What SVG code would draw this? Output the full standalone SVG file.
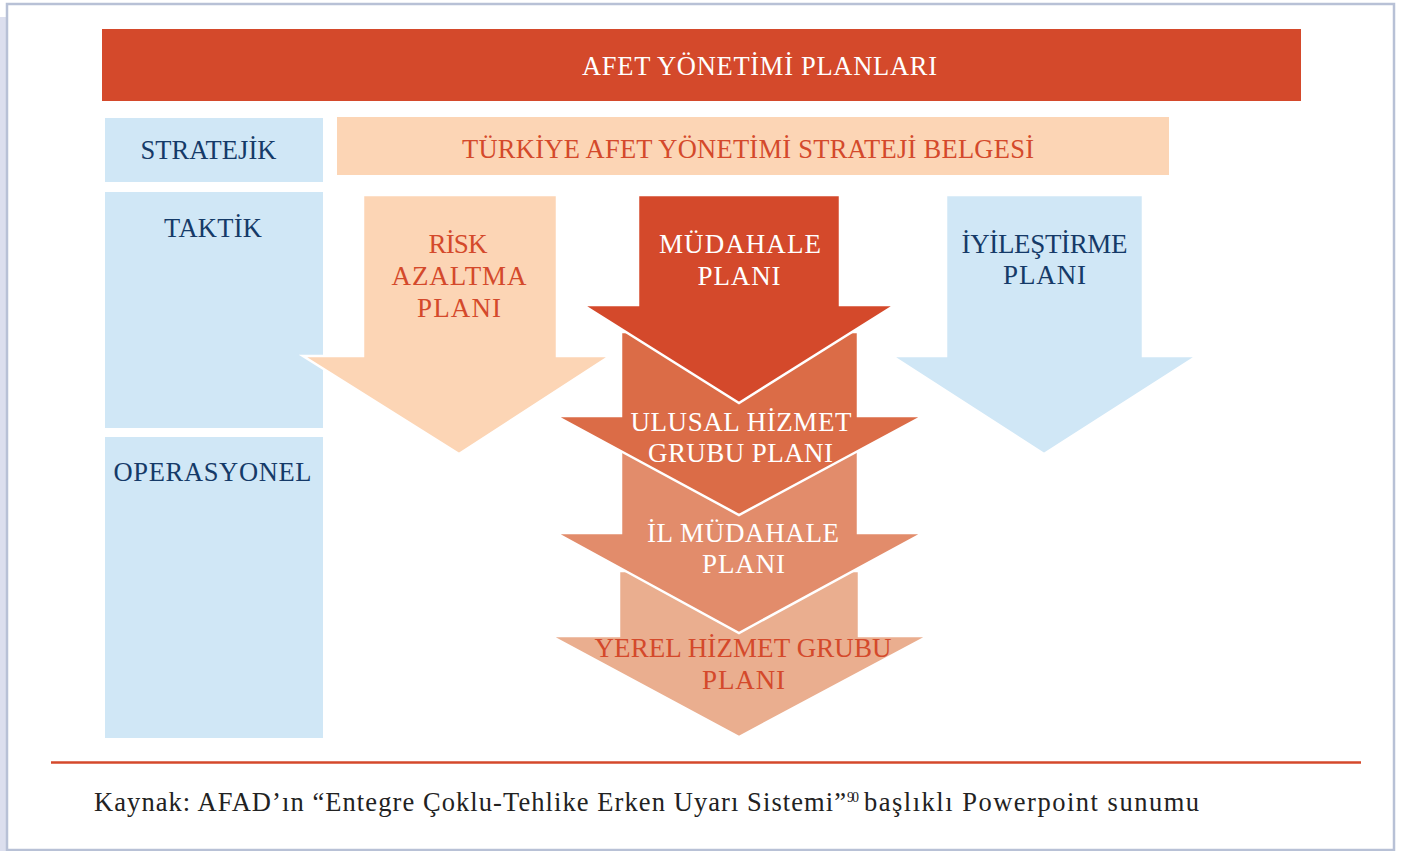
<svg xmlns="http://www.w3.org/2000/svg" width="1410" height="851" viewBox="0 0 1410 851">
<style>
.t{font-family:"Liberation Serif","Times New Roman",serif;font-size:27px;text-anchor:middle}
.h{font-size:26.5px}
.w{fill:#ffffff}
.n{fill:#153a68}
.r{fill:#d4492b}
.cap{font-family:"Liberation Serif","Times New Roman",serif;font-size:26.5px;fill:#222222}
.sup{font-family:"Liberation Serif","Times New Roman",serif;font-size:14px;fill:#222222}
.arr{stroke:#ffffff;stroke-width:2.5;stroke-linejoin:miter}
.lvl{fill:#d0e7f6}
</style>
<rect x="0" y="0" width="1410" height="851" fill="#ffffff"/>
<rect x="0" y="17" width="6" height="834" fill="#dcdfee"/>
<rect x="7" y="4" width="1387" height="846" fill="none" stroke="#b8c1d6" stroke-width="2.5"/>

<g id="header">
<rect x="102" y="29" width="1199" height="72" fill="#d4492b"/>
<text class="t h w" x="759.5" y="75" textLength="355">AFET YÖNETİMİ PLANLARI</text>
</g>

<g id="strateji-belgesi">
<rect x="337" y="117" width="832" height="58" fill="#fcd5b5"/>
<text class="t h r" x="748" y="158" textLength="572">TÜRKİYE AFET YÖNETİMİ STRATEJİ BELGESİ</text>
</g>

<g id="stratejik">
<rect class="lvl" x="105" y="118" width="218" height="64"/>
<text class="t h n" x="208.5" y="159" textLength="136">STRATEJİK</text>
</g>
<g id="taktik">
<rect class="lvl" x="105" y="192" width="218" height="236"/>
<text class="t h n" x="213" y="237" textLength="98">TAKTİK</text>
</g>
<g id="operasyonel">
<rect class="lvl" x="105" y="437" width="218" height="301"/>
<text class="t h n" x="212.5" y="481" textLength="198">OPERASYONEL</text>
</g>

<g id="risk-azaltma">
<polygon class="arr" points="363,195 557,195 557,356 610,356 459,454 303,356 363,356" fill="#fcd5b5"/>
<text class="t r" x="458" y="253" textLength="59">RİSK</text>
<text class="t r" x="459" y="285" textLength="135">AZALTMA</text>
<text class="t r" x="459" y="317" textLength="84">PLANI</text>
</g>

<g id="iyilestirme">
<polygon class="arr" points="946,195 1143,195 1143,356 1197,356 1044,454 892,356 946,356" fill="#d0e7f6"/>
<text class="t n" x="1044.5" y="253" textLength="166">İYİLEŞTİRME</text>
<text class="t n" x="1044.5" y="284" textLength="83">PLANI</text>
</g>

<g id="yerel">
<polygon class="arr" points="619,571 859,571 859,636 928,636 739,737 551,636 619,636" fill="#eaae8f"/>
</g>

<g id="il">
<polygon class="arr" points="621,450 858,450 858,533 923,533 739,633 556,533 621,533" fill="#e28c6b"/>
<text class="t w" x="743" y="542" textLength="192">İL MÜDAHALE</text>
<text class="t w" x="743.5" y="573" textLength="83">PLANI</text>
</g>

<g id="ulusal">
<polygon class="arr" points="621,332 858,332 858,416 923,416 739,515 556,416 621,416" fill="#db6c47"/>
<text class="t w" x="741" y="431" textLength="221">ULUSAL HİZMET</text>
<text class="t w" x="740.5" y="462" textLength="185">GRUBU PLANI</text>
</g>

<g id="mudahale">
<polygon class="arr" points="638,195 840,195 840,305 895,305 739,403 583,305 638,305" fill="#d4492b"/>
<text class="t w" x="740" y="253" textLength="162">MÜDAHALE</text>
<text class="t w" x="739" y="285" textLength="83">PLANI</text>
</g>

<g id="yerel-label">
<text class="t r" x="743" y="657" textLength="297">YEREL HİZMET GRUBU</text>
<text class="t r" x="743.5" y="689" textLength="83">PLANI</text>
</g>

<g id="connectors"></g>

<g id="source">
<line x1="51" y1="762.5" x2="1361" y2="762.5" stroke="#d4492b" stroke-width="2.5"/>
<text class="cap" x="94" y="811" textLength="752">Kaynak: AFAD’ın “Entegre Çoklu-Tehlike Erken Uyarı Sistemi”</text>
<text class="sup" x="847" y="802" textLength="12">90</text>
<text class="cap" x="864" y="811" textLength="335">başlıklı Powerpoint sunumu</text>
</g>
</svg>
